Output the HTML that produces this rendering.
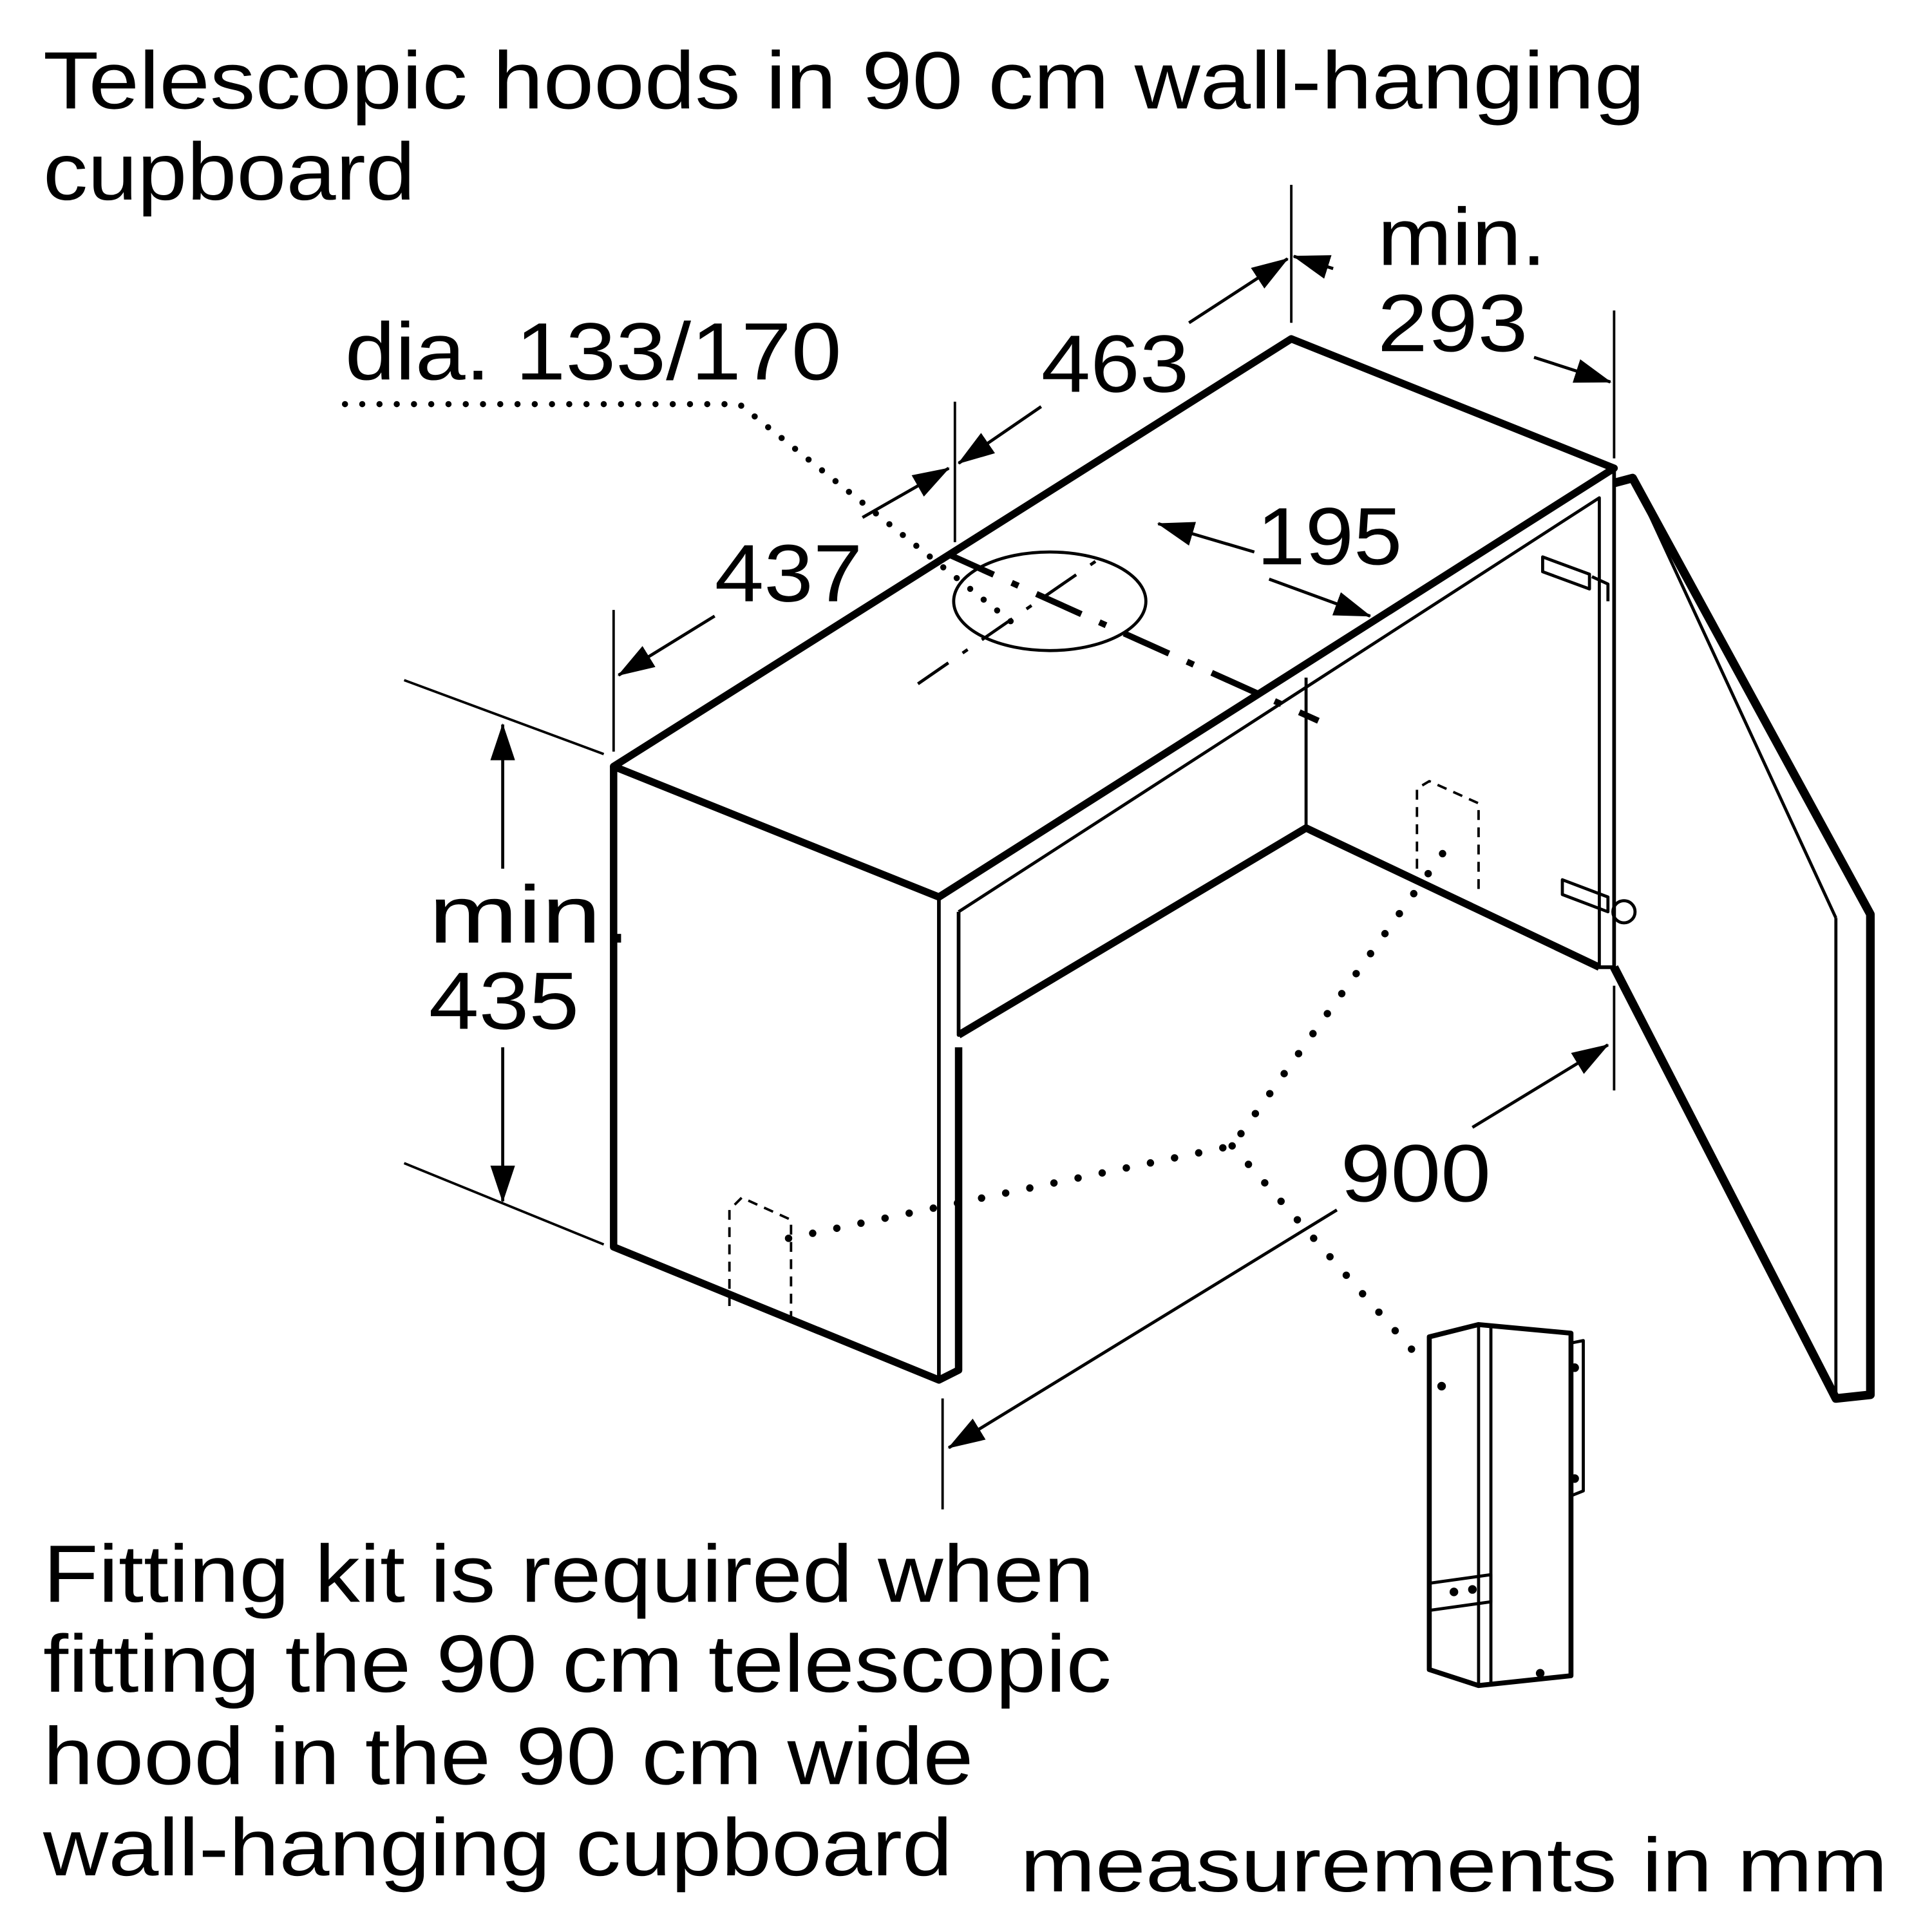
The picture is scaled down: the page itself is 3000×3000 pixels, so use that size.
<!DOCTYPE html>
<html><head><style>html,body{margin:0;padding:0;background:#fff}svg{display:block}</style></head>
<body>
<svg width="3000" height="3000" viewBox="0 0 1568 1568" xmlns="http://www.w3.org/2000/svg" font-family="Liberation Sans, sans-serif">
<defs>
<marker id="b" markerWidth="30" markerHeight="20" refX="29" refY="10" orient="auto" markerUnits="userSpaceOnUse" viewBox="0 0 30 20"><path d="M0,0 L30,10 L0,20z" fill="#000"/></marker></defs>
<g font-size="66" fill="#000" lengthAdjust="spacingAndGlyphs">
<text x="35" y="88" textLength="1300" lengthAdjust="spacingAndGlyphs">Telescopic hoods in 90 cm wall-hanging</text>
<text x="35" y="162" textLength="302" lengthAdjust="spacingAndGlyphs">cupboard</text>
<text x="280" y="308" textLength="403" lengthAdjust="spacingAndGlyphs">dia. 133/170</text>
<text x="845" y="318" textLength="120" lengthAdjust="spacingAndGlyphs">463</text>
<text x="1118" y="215" textLength="137" lengthAdjust="spacingAndGlyphs">min.</text>
<text x="1118" y="285" textLength="122" lengthAdjust="spacingAndGlyphs">293</text>
<text x="1020" y="458" textLength="118" lengthAdjust="spacingAndGlyphs">195</text>
<text x="580" y="488" textLength="120" lengthAdjust="spacingAndGlyphs">437</text>
<text x="348" y="765" textLength="164" lengthAdjust="spacingAndGlyphs">min.</text>
<text x="348" y="835" textLength="122" lengthAdjust="spacingAndGlyphs">435</text>
<text x="1088" y="975" textLength="122" lengthAdjust="spacingAndGlyphs">900</text>
<text x="35" y="1300" textLength="853" lengthAdjust="spacingAndGlyphs">Fitting kit is required when</text>
<text x="35" y="1373" textLength="867" lengthAdjust="spacingAndGlyphs">fitting the 90 cm telescopic</text>
<text x="35" y="1448" textLength="755" lengthAdjust="spacingAndGlyphs">hood in the 90 cm wide</text>
<text x="35" y="1522" textLength="738" lengthAdjust="spacingAndGlyphs">wall-hanging cupboard</text>
<text x="828" y="1535" font-size="62" textLength="704" lengthAdjust="spacingAndGlyphs">measurements in mm</text>
</g>
<g stroke="#000" fill="none" stroke-linejoin="round">
<path d="M498,622 L1048,275 L1310,380 L762,728 Z" stroke-width="6"/>
<path d="M498,622 L498,1012 L762,1120 L778,1112 L778,850" stroke-width="6"/>
<path d="M762,728 L762,1120" stroke-width="3"/>
<path d="M778,740 L778,840 L1060,672 L1298,785 L1310,785 L1310,380" stroke-width="3"/>
<path d="M778,840 L1060,672 L1298,785" stroke-width="6"/>
<path d="M778,740 L1298,404 L1298,785" stroke-width="2.5"/>
<path d="M1060,550 L1060,672" stroke-width="2.5"/>
<path d="M1310,392 L1325,388 L1518,742 L1518,1132 L1490,1135 L1310,785" stroke-width="7"/>
<path d="M1490,745 L1490,1135 M1325,388 L1490,745" stroke-width="2.5"/>
<path d="M1252,452 L1290,466 L1290,478 L1252,464 Z M1292,468 L1305,474 L1305,488" stroke-width="2.5"/>
<path d="M1268,714 L1305,728 L1305,740 L1268,726 Z" stroke-width="2.5"/>
<circle cx="1318" cy="740" r="9" stroke-width="2.5"/>
<ellipse cx="852" cy="488" rx="78" ry="40" stroke-width="2.5"/>
<path d="M770,450 L1070,585" stroke-width="5" stroke-dasharray="40,16,6,16"/>
<path d="M745,555 L890,455" stroke-width="2.5" stroke-dasharray="30,14,5,14"/>
<path d="M280,328 L600,328 L830,512" stroke-width="5" stroke-dasharray="0,14" stroke-linecap="round"/>
<path d="M640,1005 L1000,930 L1180,680" stroke-width="6" stroke-dasharray="0,20" stroke-linecap="round"/>
<path d="M1000,930 L1150,1100" stroke-width="6" stroke-dasharray="0,20" stroke-linecap="round"/>
<path d="M592,1060 L592,982 L602,972 L642,990 L642,1068" stroke-width="2" stroke-dasharray="8,6"/>
<path d="M1150,705 L1150,640 L1160,634 L1200,652 L1200,725" stroke-width="2" stroke-dasharray="8,6"/>
<path d="M1048,150 L1048,262 M1310,252 L1310,372 M775,326 L775,440 M498,495 L498,610 M328,552 L490,612 M328,944 L490,1010 M1310,800 L1310,885 M765,1135 L765,1225" stroke-width="2"/>
<path d="M965,262 L1045,210" stroke-width="2.5" marker-end="url(#b)"/>
<path d="M845,330 L778,376" stroke-width="2.5" marker-end="url(#b)"/>
<path d="M1082,218 L1050,208" stroke-width="2.5" marker-end="url(#b)"/>
<path d="M1245,290 L1307,310" stroke-width="2.5" marker-end="url(#b)"/>
<path d="M700,420 L770,380" stroke-width="2.5" marker-end="url(#b)"/>
<path d="M580,500 L502,548" stroke-width="2.5" marker-end="url(#b)"/>
<path d="M1018,448 L940,425" stroke-width="2.5" marker-end="url(#b)"/>
<path d="M1030,470 L1112,500" stroke-width="2.5" marker-end="url(#b)"/>
<path d="M408,705 L408,588" stroke-width="2.5" marker-end="url(#b)"/>
<path d="M408,850 L408,975" stroke-width="2.5" marker-end="url(#b)"/>
<path d="M1195,915 L1305,848" stroke-width="2.5" marker-end="url(#b)"/>
<path d="M1085,982 L770,1175" stroke-width="2.5" marker-end="url(#b)"/>
<path d="M1160,1085 L1200,1075 L1275,1082 L1275,1360 L1200,1368 L1160,1355 Z" stroke-width="4"/>
<path d="M1200,1075 L1200,1368 M1210,1075 L1210,1368" stroke-width="2.5"/>
<path d="M1275,1090 L1285,1088 L1285,1210 L1275,1214" stroke-width="2.5"/>
<path d="M1160,1285 L1210,1278 L1210,1300 L1160,1307 Z" stroke-width="2.5"/>
<circle cx="1180" cy="1292" r="3" fill="#000"/><circle cx="1195" cy="1290" r="3" fill="#000"/>
<circle cx="1170" cy="1125" r="3" fill="#000"/><circle cx="1250" cy="1358" r="3" fill="#000"/>
<circle cx="1278" cy="1110" r="3" fill="#000"/><circle cx="1278" cy="1200" r="3" fill="#000"/>
</g>
</svg>
</body></html>
